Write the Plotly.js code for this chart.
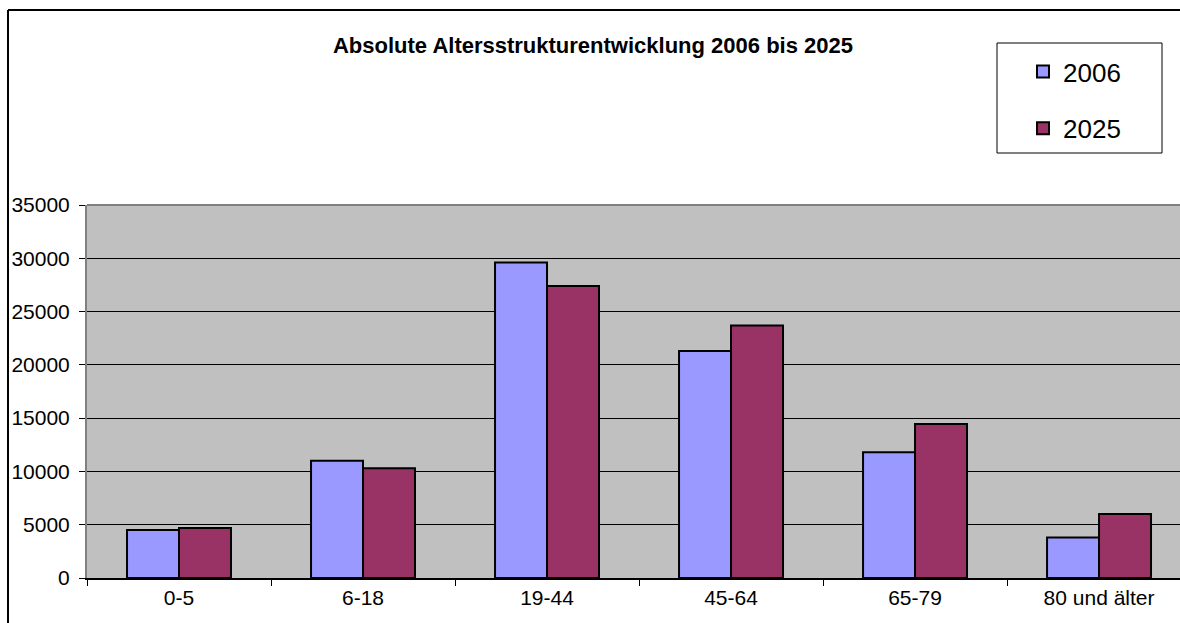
<!DOCTYPE html>
<html>
<head>
<meta charset="utf-8">
<script src="https://cdn.plot.ly/plotly-3.0.1.min.js"></script>
<style>html,body{margin:0;padding:0;background:#fff;}#chart{width:1180px;height:623px;}</style>
</head>
<body>
<div id="chart"></div>
<script>
const categories = ["0-5", "6-18", "19-44", "45-64", "65-79", "80 und älter"];
const values2006 = [4500, 11000, 29600, 21300, 11800, 3800];
const values2025 = [4700, 10300, 27400, 23700, 14450, 6000];
const seriesNames = ["2006", "2025"];
const yTicks = [0, 5000, 10000, 15000, 20000, 25000, 30000, 35000];

const FONT = "Liberation Sans, Arial, sans-serif";
const L = 87, T = 205, W = 1093, H = 373;
const px = x => (x - L) / W;
const py = y => (T + H - y) / H;

const traces = [
  {type: "bar", name: seriesNames[0], x: categories, y: values2006, legendgroup: "a",
   marker: {color: "#9999FF", line: {color: "#000000", width: 2}}},
  {type: "bar", name: seriesNames[1], x: categories, y: values2025, legendgroup: "b",
   marker: {color: "#993366", line: {color: "#000000", width: 2}}}
];

const layout = {
  width: 1180, height: 623,
  margin: {l: L, r: 1180 - L - W, t: T, b: 623 - T - H, pad: 0},
  paper_bgcolor: "#FFFFFF",
  plot_bgcolor: "#C0C0C0",
  font: {family: FONT, size: 21, color: "#000000"},
  title: {text: "<b>Absolute Altersstrukturentwicklung 2006 bis 2025</b>",
          font: {family: FONT, size: 22, color: "#000000"},
          x: 593 / 1180, xref: "container", xanchor: "center", y: 1 - 45 / 623, yanchor: "middle"},
  barmode: "group",
  bargap: 0.435,
  bargroupgap: 0,
  xaxis: {
    type: "category",
    range: [-0.5, 5.44],
    showgrid: false,
    ticks: "outside", tickson: "boundaries", ticklen: 6, tickcolor: "#000000", tickwidth: 1,
    showline: true, linecolor: "#000000", linewidth: 2,
    tickfont: {family: FONT, size: 21, color: "#000000"},
    fixedrange: true
  },
  yaxis: {
    range: [0, 35000],
    tickvals: yTicks,
    ticktext: yTicks.map(String),
    showgrid: true, gridcolor: "#000000", gridwidth: 1,
    ticks: "outside", ticklen: 6, tickcolor: "#000000", tickwidth: 1,
    ticklabelstandoff: 5,
    showline: true, linecolor: "#808080", linewidth: 2,
    zeroline: false,
    tickfont: {family: FONT, size: 21, color: "#000000"},
    fixedrange: true
  },
  showlegend: true,
  legend: {
    x: px(1023), y: py(48), xanchor: "left", yanchor: "top",
    bgcolor: "rgba(0,0,0,0)", borderwidth: 0,
    font: {family: FONT, size: 26, color: "#000000"},
    tracegroupgap: 20,
    traceorder: "grouped"
  },
  shapes: [
    {type: "line", xref: "paper", yref: "paper", x0: 0, x1: 1.02, y0: 1, y1: 1,
     line: {color: "#808080", width: 2}, layer: "above"},
    {type: "rect", xref: "paper", yref: "paper", x0: px(997), x1: px(1162), y0: py(43), y1: py(153),
     line: {color: "#000000", width: 1}, fillcolor: "rgba(0,0,0,0)"},
    {type: "line", xref: "paper", yref: "paper", x0: px(8), x1: px(8), y0: py(10), y1: py(640),
     line: {color: "#000000", width: 2}},
    {type: "line", xref: "paper", yref: "paper", x0: px(8), x1: px(1200), y0: py(10), y1: py(10),
     line: {color: "#000000", width: 2}}
  ]
};

Plotly.newPlot("chart", traces, layout, {displayModeBar: false, staticPlot: true});
</script>
</body>
</html>
